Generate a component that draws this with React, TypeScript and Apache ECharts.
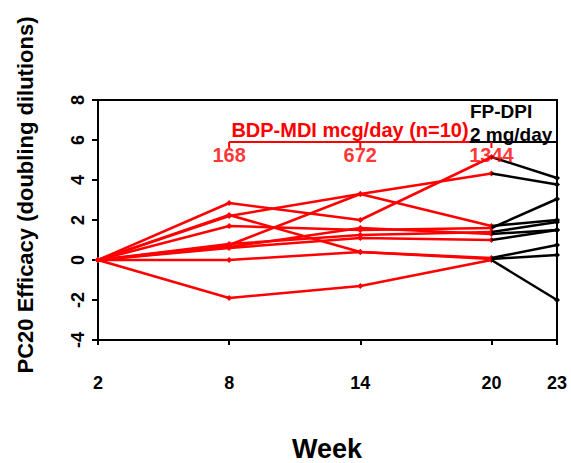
import React, { useEffect, useRef } from "react";
import * as echarts from "echarts";

// ---- data ----
const weeks = [2, 8, 14, 20];
const xTickValues = [2, 8, 14, 20, 23];
const fpWeeks = [20, 23];
// BDP-MDI subjects: values at weeks 2, 8, 14, 20
const bdpValues = [
  [0, 2.85, 2.0, 5.15],
  [0, 2.2, 3.3, 4.33],
  [0, 0.75, 3.3, 1.7],
  [0, 2.25, 0.4, 0.05],
  [0, 1.7, 1.5, 1.6],
  [0, 0.8, 1.25, 1.4],
  [0, 0.65, 1.6, 1.3],
  [0, 0.6, 1.1, 1.0],
  [0, 0.0, 0.4, 0.1],
  [0, -1.9, -1.3, 0.0],
];
// FP-DPI values at week 23 (same subjects)
const fpWeek23 = [4.1, 3.78, 2.0, 0.25, 3.05, 1.9, 1.5, 1.5, 0.75, -2.0];
const doseWeeks = [8, 14, 20];
const doseLabels = ["168", "672", "1344"];
const bracketLevel = 5.9;
const doseLabelLevel = 5.27;
const fpBracketWeeks = [19, 23];

const FONT = "'Liberation Sans', Arial, Helvetica, sans-serif";
const RED = "#ff0000";

export default function App() {
  const ref = useRef<HTMLDivElement>(null);
  useEffect(() => {
    document.body.style.margin = "0";
    const chart = echarts.init(ref.current!, undefined, { renderer: "svg" });

    const redSeries = bdpValues.map((row, i) => ({
      type: "line",
      name: "BDP " + (i + 1),
      data: row.map((v, j) => [weeks[j], v]),
      lineStyle: { color: RED, width: 2.5 },
      itemStyle: { color: RED },
      symbol: "diamond",
      symbolSize: 6,
      z: 2,
    }));
    const blackSeries = bdpValues.map((row, i) => ({
      type: "line",
      name: "FP " + (i + 1),
      data: [
        { value: [fpWeeks[0], row[3]], symbol: "none" },
        { value: [fpWeeks[1], fpWeek23[i]] },
      ],
      lineStyle: { color: "#000", width: 2.5 },
      itemStyle: { color: "#000" },
      symbol: "diamond",
      symbolSize: 6,
      z: 3,
    }));

    chart.setOption({
      animation: false,
      grid: {
        left: 98,
        right: 14,
        top: 100,
        bottom: 123,
        show: true,
        borderColor: "#000",
        borderWidth: 2,
      },
      xAxis: {
        type: "value",
        min: 2,
        max: 23,
        splitLine: { show: false },
        axisLine: { onZero: false, lineStyle: { color: "#000", width: 2 } },
        axisTick: {
          show: true,
          length: 5,
          lineStyle: { color: "#000", width: 2 },
          customValues: xTickValues,
        },
        axisLabel: {
          customValues: xTickValues,
          margin: 34,
          color: "#000",
          fontSize: 18,
          fontWeight: "bold",
          fontFamily: FONT,
        },
      },
      yAxis: {
        type: "value",
        min: -4,
        max: 8,
        interval: 2,
        splitLine: { show: false },
        axisLine: { show: true, onZero: false, lineStyle: { color: "#000", width: 2 } },
        axisTick: { show: true, length: 6, lineStyle: { color: "#000", width: 2 } },
        axisLabel: {
          rotate: 90,
          margin: 11,
          color: "#000",
          fontSize: 18,
          fontWeight: "bold",
          fontFamily: FONT,
        },
      },
      graphic: [
        {
          type: "text",
          x: 25,
          y: 195,
          rotation: Math.PI / 2,
          style: {
            text: "PC20 Efficacy (doubling dilutions)",
            font: `bold 22px ${FONT}`,
            fill: "#000",
            textAlign: "center",
            textVerticalAlign: "middle",
          },
        },
        {
          type: "text",
          x: 327,
          y: 449,
          style: {
            text: "Week",
            font: `bold 27px ${FONT}`,
            fill: "#000",
            textAlign: "center",
            textVerticalAlign: "middle",
          },
        },
        {
          type: "text",
          x: 350,
          y: 130,
          z: 10,
          style: {
            text: "BDP-MDI mcg/day (n=10)",
            font: `bold 20px ${FONT}`,
            fill: RED,
            textAlign: "center",
            textVerticalAlign: "middle",
          },
        },
        {
          type: "text",
          x: 470,
          y: 111,
          z: 10,
          style: {
            text: "FP-DPI",
            font: `bold 19px ${FONT}`,
            fill: "#000",
            textAlign: "left",
            textVerticalAlign: "middle",
          },
        },
        {
          type: "text",
          x: 470,
          y: 134,
          z: 10,
          style: {
            text: "2 mg/day",
            font: `bold 19px ${FONT}`,
            fill: "#000",
            textAlign: "left",
            textVerticalAlign: "middle",
          },
        },
      ],
      series: [
        ...redSeries,
        ...blackSeries,
        {
          type: "line",
          name: "BDP bracket",
          data: doseWeeks.map((w) => [w, bracketLevel]),
          lineStyle: { color: RED, width: 2 },
          itemStyle: { color: RED },
          symbol: "rect",
          symbolSize: [2, 6],
          symbolOffset: [0, 3],
          z: 4,
        },
        {
          type: "line",
          name: "FP bracket",
          data: fpBracketWeeks.map((w) => [w, bracketLevel]),
          lineStyle: { color: "#000", width: 2 },
          symbol: "none",
          z: 4,
        },
        {
          type: "scatter",
          name: "Doses",
          data: doseWeeks.map((w, i) => ({ value: [w, doseLabelLevel], name: doseLabels[i] })),
          symbolSize: 1,
          itemStyle: { color: "rgba(0,0,0,0)" },
          label: {
            show: true,
            position: "inside",
            formatter: (p: any) => p.name,
            color: RED,
            fontSize: 20,
            fontWeight: "bold",
            fontFamily: FONT,
          },
          z: 5,
        },
      ],
    });
    return () => chart.dispose();
  }, []);
  return (
    <div
      ref={ref}
      style={{ position: "absolute", left: 0, top: 0, width: 571, height: 463, background: "#fff" }}
    />
  );
}
